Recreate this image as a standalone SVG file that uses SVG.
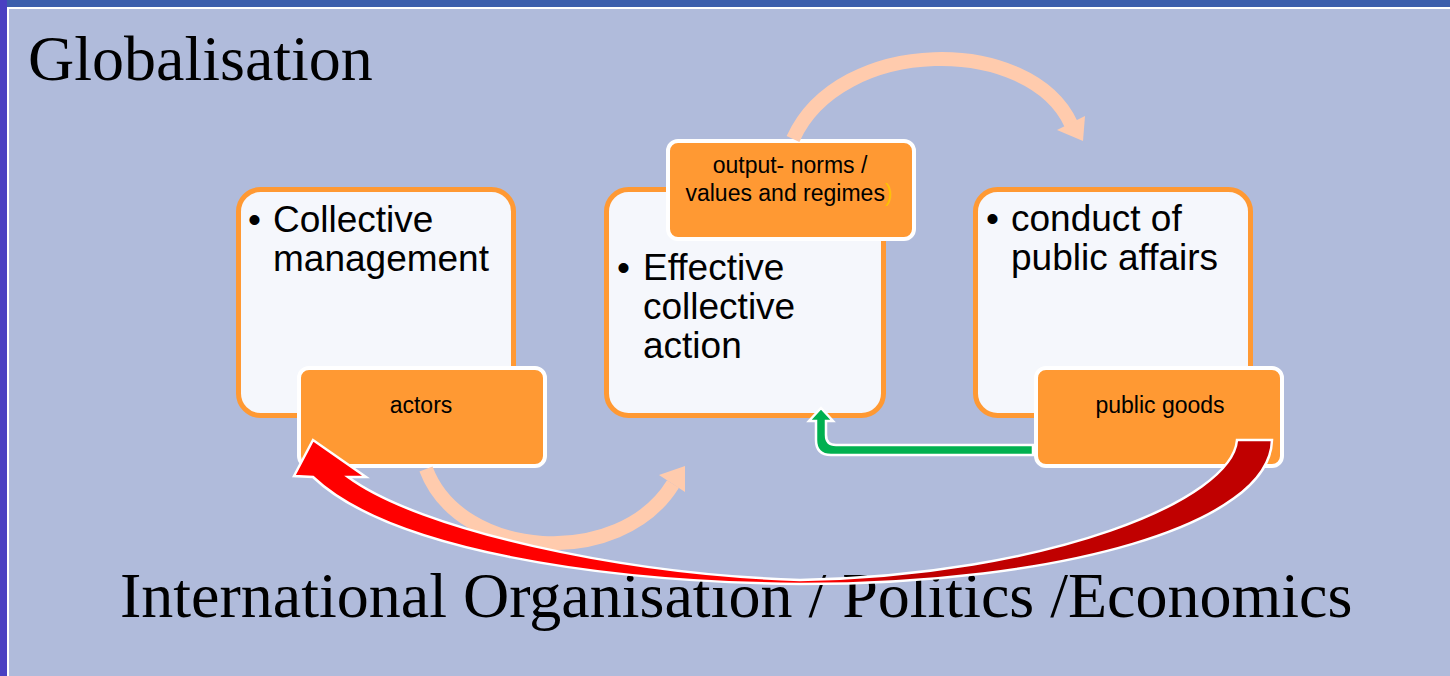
<svg xmlns="http://www.w3.org/2000/svg" width="1450" height="676" viewBox="0 0 1450 676">
<defs>
<style>
.main{fill:#F5F7FC;stroke:#FF9933;stroke-width:5}
.sub{fill:#FF9933;stroke:#FFFFFF;stroke-width:4}
.big{font-family:"Liberation Sans",Arial,sans-serif;font-size:37px;fill:#000}
.small{font-family:"Liberation Sans",Arial,sans-serif;font-size:23px;fill:#000;text-anchor:middle}
.title{font-family:"Liberation Serif","Times New Roman",serif;fill:#000}
.peach{fill:none;stroke:#FFCBAD;stroke-width:14}
.peachhead{fill:#FFCBAD}
</style>
<linearGradient id="redgrad" gradientUnits="userSpaceOnUse" x1="294" y1="0" x2="1272" y2="0">
<stop offset="0.54" stop-color="#FF0000"/>
<stop offset="0.62" stop-color="#C00000"/>
</linearGradient>
</defs>
<rect x="0" y="0" width="1450" height="676" fill="#B0BBDB"/>
<rect x="0" y="0" width="1450" height="7" fill="#3B5EAC"/>
<rect x="0" y="0" width="7" height="676" fill="#4A40C2"/>
<rect x="7" y="7" width="1443" height="2" fill="#FFFFFF"/>
<rect x="7" y="7" width="2" height="669" fill="#FFFFFF"/>

<text class="title" x="28" y="80" font-size="64">Globalisation</text>
<text class="title" x="120" y="617" font-size="64">International Organisation / Politics /Economics</text>

<g id="node-collective">
<rect class="main" x="238.5" y="189.5" width="275" height="226" rx="22"/>
<text class="big" x="248" y="232">•</text>
<text class="big" x="273" y="232">Collective</text>
<text class="big" x="273" y="271">management</text>
</g>
<g id="node-actors">
<rect class="sub" x="299" y="368" width="246" height="98" rx="10"/>
<text class="small" x="421" y="413">actors</text>
</g>
<g id="node-effective">
<rect class="main" x="606.5" y="189.5" width="277" height="226" rx="22"/>
<text class="big" x="617" y="280">•</text>
<text class="big" x="643" y="280">Effective</text>
<text class="big" x="643" y="319">collective</text>
<text class="big" x="643" y="358">action</text>
</g>
<g id="node-output">
<rect class="sub" x="668" y="141" width="246" height="98" rx="10"/>
<text class="small" x="790" y="173">output- norms /</text>
<text class="small" x="789" y="201">values and regimes<tspan fill="#FFC000">)</tspan></text>
</g>
<g id="node-conduct">
<rect class="main" x="975.5" y="189.5" width="275" height="226" rx="22"/>
<text class="big" x="986" y="231">•</text>
<text class="big" x="1011" y="231">conduct of</text>
<text class="big" x="1011" y="270">public affairs</text>
</g>
<g id="node-publicgoods">
<rect class="sub" x="1036" y="368" width="246" height="98" rx="10"/>
<text class="small" x="1160" y="413">public goods</text>
</g>

<g id="connectors">
<path class="peach" d="M 426 469 C 460 560 620 570 673 484"/>
<polygon class="peachhead" points="685,466 659,475 685,492"/>
<path class="peach" d="M 793 139 C 840 35 1030 35 1071 124"/>
<polygon class="peachhead" points="1083,141 1085,116 1057,130"/>
<path d="M1033,445 L836,445 Q826,445 826,435 L826,421 L833,421 L821,408 L809,421 L816,421 L816,440 Q816,455 831,455 L1033,455 Z" fill="#00B050" stroke="#FFFFFF" stroke-width="2.5"/>
<path d="M 1272 440 C 1270 525 1060 584 800 584 C 600 582 390 550 313 477 L 294 476 L 313 440 L 366 477 L 348 477 C 420 530 620 574 800 580 C 1050 575 1232 500 1237 440 Z" fill="url(#redgrad)" stroke="#FFFFFF" stroke-width="2.5"/>
</g>
</svg>
